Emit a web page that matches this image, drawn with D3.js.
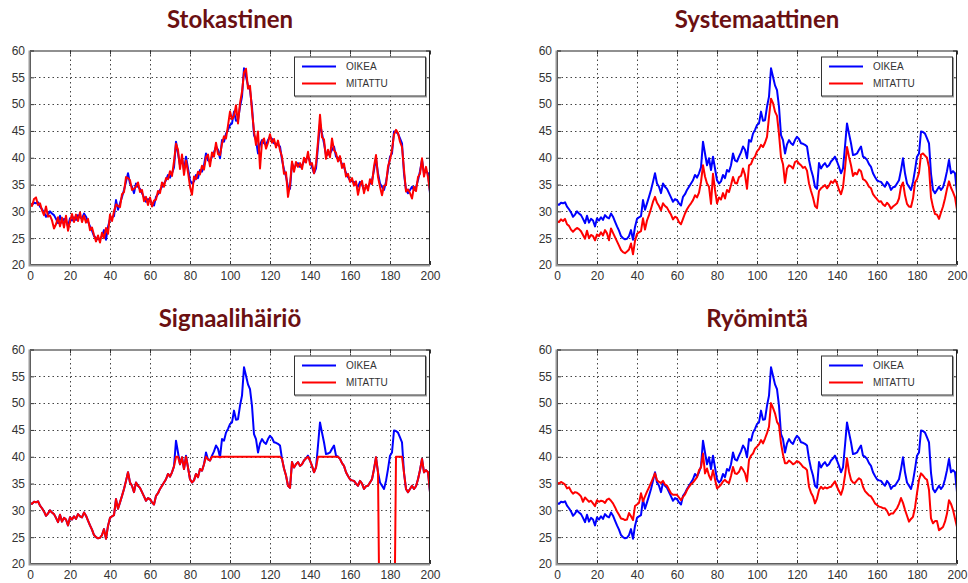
<!DOCTYPE html>
<html>
<head>
<meta charset="utf-8">
<script src="https://cdn.jsdelivr.net/npm/d3@7"></script>
<style>
  body { margin: 0; background: #fff; }
  svg { display: block; }
</style>
</head>
<body>
<svg id="chart" width="968" height="583"></svg>
<script>
// Axis ticks
const xTicks = [0, 20, 40, 60, 80, 100, 120, 140, 160, 180, 200];
const yTicks = [20, 25, 30, 35, 40, 45, 50, 55, 60];

// Panel titles and legend entries
const titles = ["Stokastinen", "Systemaattinen", "Signaalihäiriö", "Ryömintä"];
const legendNames = ["OIKEA", "MITATTU"];

// True signal (OIKEA), samples 0..200
const oikea = [
  31.4,31.2,31.6,31.5,31.7,30.9,30.4,29.8,29.0,29.4,
  30.0,29.6,29.3,28.6,27.8,29.2,27.9,28.6,28.3,27.2,
  28.7,28.3,28.9,28.4,29.3,28.9,28.7,29.6,29.0,28.1,
  27.2,26.4,25.4,25.0,24.8,24.9,25.4,26.5,24.7,27.1,
  28.6,28.9,29.1,32.1,30.3,31.5,32.7,34.0,35.5,37.1,
  35.2,34.6,33.4,35.2,34.6,34.2,33.4,32.6,31.8,32.3,
  32.1,31.5,31.1,32.7,33.2,34.0,34.6,35.2,35.8,36.8,
  36.3,37.1,38.2,43.0,40.8,38.6,39.9,37.7,40.2,38.0,
  35.8,35.2,35.6,36.8,36.2,37.7,37.4,38.6,40.8,39.5,
  39.3,40.2,41.0,42.1,41.5,39.9,43.3,43.0,44.5,45.2,
  46.1,46.4,48.6,46.9,47.0,49.5,51.4,56.7,55.1,53.5,
  52.6,49.5,44.2,43.3,40.8,42.5,43.3,42.7,42.4,43.3,
  43.9,43.5,42.7,42.6,42.4,42.1,39.6,37.8,36.5,34.6,
  34.2,39.0,38.0,38.6,39.0,38.3,38.6,39.3,39.7,40.2,
  39.3,38.3,37.1,38.0,42.1,46.4,44.5,42.7,40.5,40.6,
  40.8,41.5,42.1,40.2,40.0,39.6,38.8,38.3,37.1,36.4,
  35.8,35.6,35.5,35.0,34.6,35.5,35.0,34.0,34.5,34.6,
  35.2,35.8,37.7,39.9,37.1,35.2,34.6,34.0,35.5,37.7,
  40.2,40.8,44.9,44.8,44.5,43.6,42.7,37.0,34.0,33.4,
  34.0,34.6,34.0,34.5,35.8,37.5,39.6,37.1,37.5,37.1,
  33.4
];

// Measured signal with random noise
const mitattuStokastinen = [
  31.6,31.0,32.3,32.6,31.2,31.5,30.2,29.3,30.9,29.0,
  29.2,28.3,26.8,27.6,28.9,27.2,28.8,27.0,29.2,26.4,
  28.1,29.5,28.0,29.4,28.2,29.8,28.0,29.2,27.9,28.6,
  26.5,27.0,25.6,24.4,25.5,24.2,26.0,25.0,26.9,25.8,
  29.4,28.2,30.0,31.3,31.0,30.8,33.2,33.6,36.4,36.2,
  35.8,34.0,34.2,34.6,35.4,33.6,34.0,31.9,32.7,31.2,
  32.6,30.9,32.0,32.2,33.8,33.4,35.4,34.6,36.2,36.0,
  37.5,36.6,39.3,42.6,41.5,37.9,40.6,36.8,39.5,37.3,
  34.6,33.1,36.5,36.0,37.4,36.9,38.5,37.8,40.1,40.6,
  38.4,41.0,40.2,42.8,40.7,40.5,42.6,44.0,43.6,46.0,
  48.6,47.2,47.8,49.8,46.4,50.2,52.3,55.9,56.6,52.9,
  53.4,48.7,45.0,42.4,44.9,38.0,43.0,43.6,41.7,42.8,
  44.4,42.8,43.5,41.9,43.2,41.4,40.2,37.0,37.3,32.7,
  35.0,39.3,37.4,39.2,38.3,39.0,37.9,40.0,39.1,41.1,
  38.7,39.0,37.1,38.9,43.0,48.0,43.8,43.4,39.8,41.5,
  40.1,43.6,41.4,40.9,39.3,40.3,38.1,38.9,36.5,37.0,
  35.5,36.2,34.8,35.6,33.1,34.9,35.7,33.4,35.0,33.9,
  36.0,35.1,38.4,40.5,36.4,34.6,33.0,34.8,34.9,38.4,
  39.6,41.5,44.3,45.2,44.6,43.0,42.0,37.8,33.7,34.1,
  33.4,32.4,34.6,33.8,36.4,37.0,39.9,36.5,38.3,36.4,
  33.7
];

// Measured signal with a systematic (gain) error
const mitattuSystemaattinen = [
  28.2,28.0,28.5,28.2,28.6,27.6,27.3,26.6,26.2,26.6,
  26.9,26.7,26.3,25.6,24.9,26.4,25.0,25.6,25.4,24.6,
  25.7,25.4,26.1,25.5,26.5,25.9,24.6,26.8,26.0,25.2,
  24.4,23.6,22.8,22.4,22.2,22.5,22.9,24.0,22.0,24.5,
  25.8,26.1,26.3,28.7,26.6,28.3,29.3,30.5,31.8,32.7,
  31.6,31.0,30.2,31.5,31.0,30.7,30.0,29.4,28.5,29.0,
  28.8,28.0,27.6,28.6,29.6,30.4,31.0,31.5,32.1,33.0,
  32.6,33.5,35.5,38.6,36.5,35.2,34.6,31.4,37.0,34.0,
  31.5,32.6,32.2,33.4,32.4,34.0,33.6,34.9,36.4,35.3,
  35.2,36.4,36.6,38.0,36.8,34.2,38.6,38.8,39.8,40.2,
  41.2,41.6,42.4,42.0,42.8,43.9,47.6,51.0,50.2,48.6,
  47.8,44.4,40.1,38.8,35.3,38.0,38.6,38.4,38.0,39.2,
  39.4,38.9,38.6,38.1,38.3,37.6,35.2,33.8,32.6,31.0,
  30.6,33.8,34.3,34.6,34.9,34.3,34.8,35.6,35.3,35.9,
  35.2,34.0,33.2,34.5,38.0,42.0,40.2,38.6,36.6,37.2,
  36.9,37.8,37.5,36.0,35.8,35.3,34.6,34.3,33.2,32.7,
  32.3,31.8,31.9,31.3,31.0,31.6,31.2,30.5,30.9,31.2,
  31.5,32.4,34.6,35.4,33.0,31.4,30.9,30.8,32.4,35.4,
  36.0,37.2,40.6,40.8,40.4,40.0,38.2,32.6,30.8,29.5,
  29.4,28.6,29.8,30.9,32.4,34.2,35.6,34.4,33.6,32.6,
  30.3
];

// Measured signal saturating at 40, with a dropout
const mitattuSignaali = [
  31.4,31.2,31.6,31.5,31.7,30.9,30.4,29.8,29.0,29.4,
  30.0,29.6,29.3,28.6,27.8,29.2,27.9,28.6,28.3,27.2,
  28.7,28.3,28.9,28.4,29.3,28.9,28.7,29.6,29.0,28.1,
  27.2,26.4,25.4,25.0,24.8,24.9,25.4,26.5,24.7,27.1,
  28.6,28.9,29.1,32.1,30.3,31.5,32.7,34.0,35.5,37.1,
  35.2,34.6,33.4,35.2,34.6,34.2,33.4,32.6,31.8,32.3,
  32.1,31.5,31.1,32.7,33.2,34.0,34.6,35.2,35.8,36.8,
  36.3,37.1,38.2,40.0,40.0,38.6,39.9,37.7,40.0,38.0,
  35.8,35.2,35.6,36.8,36.2,37.7,37.4,38.6,40.0,39.5,
  39.3,40.0,40.0,40.0,40.0,39.9,40.0,40.0,40.0,40.0,
  40.0,40.0,40.0,40.0,40.0,40.0,40.0,40.0,40.0,40.0,
  40.0,40.0,40.0,40.0,40.0,40.0,40.0,40.0,40.0,40.0,
  40.0,40.0,40.0,40.0,40.0,40.0,39.6,37.8,36.5,34.6,
  34.2,39.0,38.0,38.6,39.0,38.3,38.6,39.3,39.7,40.0,
  39.3,38.3,37.1,38.0,40.0,40.0,40.0,40.0,40.0,40.0,
  40.0,40.0,40.0,40.0,40.0,39.6,38.8,38.3,37.1,36.4,
  35.8,35.6,35.5,35.0,34.6,35.5,35.0,34.0,34.5,34.6,
  35.2,35.8,37.7,39.9,37.1,0.0,0.0,0.0,0.0,0.0,
  0.0,0.0,0.0,40.0,40.0,40.0,40.0,37.0,34.0,33.4,
  34.0,34.6,34.0,34.5,35.8,37.5,39.6,37.1,37.5,37.1,
  33.4
];

// Measured signal with drift
const mitattuRyominta = [
  35.2,35.0,35.3,35.1,34.8,34.1,34.3,33.6,33.1,33.4,
  33.3,33.0,32.6,31.6,32.4,32.0,31.6,31.8,31.3,30.8,
  31.9,31.6,31.8,31.7,31.4,32.0,32.2,31.8,31.3,30.6,
  29.8,29.2,28.5,28.4,28.2,28.3,29.5,28.9,28.2,30.8,
  31.1,31.4,33.2,31.7,32.6,33.5,34.3,35.1,36.0,36.9,
  35.6,35.3,35.1,35.5,34.8,34.6,33.9,33.2,32.9,32.9,
  32.9,32.4,31.9,32.5,33.0,33.8,34.4,34.9,35.2,35.7,
  36.2,37.5,38.0,40.6,36.9,37.8,36.5,35.7,37.5,35.8,
  34.1,34.4,34.8,35.4,35.7,35.3,35.1,36.4,38.1,36.9,
  36.8,37.2,38.1,37.6,36.9,35.4,39.4,40.2,40.6,41.5,
  41.9,42.3,43.1,42.5,43.4,44.4,45.6,50.0,49.1,48.1,
  46.5,45.9,42.5,40.4,38.8,38.8,39.3,39.0,38.6,38.8,
  39.2,39.0,38.6,38.1,37.9,37.5,34.4,33.3,32.6,31.3,
  32.2,33.8,34.4,34.0,34.3,34.1,34.3,34.4,34.9,35.4,
  34.4,33.6,32.9,34.1,36.5,39.7,37.2,35.7,35.2,35.1,
  35.6,36.0,35.7,34.4,33.6,33.2,32.8,32.6,32.0,31.3,
  31.0,30.7,30.6,30.4,30.4,29.9,29.1,29.4,29.4,29.9,
  30.4,31.2,32.3,31.4,30.1,29.0,27.9,28.4,28.8,30.5,
  33.2,35.7,36.9,36.5,36.0,35.7,33.8,28.5,27.6,28.0,
  28.0,26.3,26.6,26.9,27.9,29.4,31.9,31.2,30.1,28.5,
  26.9
];

const measured = [mitattuStokastinen, mitattuSystemaattinen, mitattuSignaali, mitattuRyominta];

const svg = d3.select("#chart");
const W = 400, H = 214.5;
const colX = [30, 557];
const rowY = [50.5, 349.5];

titles.forEach((title, i) => {
  const x0 = colX[i % 2], y0 = rowY[Math.floor(i / 2)];
  const x = d3.scaleLinear().domain([0, 200]).range([x0, x0 + W]);
  const y = d3.scaleLinear().domain([20, 60]).range([y0 + H, y0]);
  const g = svg.append("g");

  // title
  g.append("text")
    .attr("x", x0 + W / 2).attr("y", y0 - 23)
    .attr("text-anchor", "middle")
    .style("font-family", "Lato, 'Open Sans', sans-serif")
    .style("font-weight", "700")
    .style("font-size", "24px")
    .style("fill", "#6b1012")
    .text(title);

  // dotted grid
  const grid = g.append("g").attr("stroke", "#444").attr("stroke-width", 1)
    .attr("stroke-dasharray", "1.5,3");
  grid.selectAll("line.vx").data(xTicks.slice(1, -1)).join("line")
    .attr("x1", d => Math.round(x(d)) + 0.5).attr("x2", d => Math.round(x(d)) + 0.5)
    .attr("y1", y0).attr("y2", y0 + H);
  grid.selectAll("line.hy").data(yTicks.slice(1, -1)).join("line")
    .attr("y1", d => Math.round(y(d)) + 0.5).attr("y2", d => Math.round(y(d)) + 0.5)
    .attr("x1", x0).attr("x2", x0 + W);

  // axes with inward ticks
  const styleAxis = sel => {
    sel.select(".domain").remove();
    sel.selectAll(".tick line").attr("stroke", "#333");
    sel.selectAll("text")
      .style("font-family", "'Liberation Sans', Arial, sans-serif")
      .style("font-size", "12px")
      .style("fill", "#333");
  };
  g.append("g").attr("transform", `translate(0,${y0 + H})`)
    .call(d3.axisBottom(x).tickValues(xTicks).tickSize(-4).tickPadding(6))
    .call(styleAxis);
  g.append("g").attr("transform", `translate(${x0},0)`)
    .call(d3.axisLeft(y).tickValues(yTicks).tickSize(-4).tickPadding(5))
    .call(styleAxis);
  g.append("g").attr("transform", `translate(0,${y0})`)
    .call(d3.axisTop(x).tickValues(xTicks).tickSize(-4).tickFormat(""))
    .call(styleAxis);
  g.append("g").attr("transform", `translate(${x0 + W},0)`)
    .call(d3.axisRight(y).tickValues(yTicks).tickSize(-4).tickFormat(""))
    .call(styleAxis);

  // clip to plot area
  const clipId = "clip" + i;
  svg.append("clipPath").attr("id", clipId)
    .append("rect").attr("x", x0).attr("y", y0).attr("width", W).attr("height", H);

  const line = d3.line().x((d, k) => x(k)).y(d => y(d));
  const series = g.append("g").attr("clip-path", `url(#${clipId})`)
    .attr("fill", "none").attr("stroke-width", 2).attr("stroke-linejoin", "round");
  series.append("path").datum(oikea).attr("stroke", "#0000ff").attr("d", line);
  series.append("path").datum(measured[i]).attr("stroke", "#ff0000").attr("d", line);

  // frame
  g.append("rect").attr("x", x0 + 0.5).attr("y", y0 + 0.5)
    .attr("width", W - 1).attr("height", H - 1)
    .attr("fill", "none").attr("stroke", "#222").attr("stroke-width", 1);
  g.append("path")
    .attr("d", `M${x0 - 0.5},${y0} V${y0 + H + 0.5} H${x0 + W}`)
    .attr("fill", "none").attr("stroke", "#999").attr("stroke-width", 2);

  // legend
  const lx = x0 + W - 5 - 131, ly = y0 + 6;
  const leg = g.append("g");
  leg.append("rect").attr("x", lx + 1.5).attr("y", ly + 1.5).attr("width", 131).attr("height", 39)
    .attr("fill", "none").attr("stroke", "#999").attr("stroke-width", 1);
  leg.append("rect").attr("x", lx + 0.5).attr("y", ly + 0.5).attr("width", 131).attr("height", 39)
    .attr("fill", "#fff").attr("stroke", "#333").attr("stroke-width", 1);
  legendNames.forEach((name, k) => {
    const yy = ly + 10 + k * 17;
    leg.append("line").attr("x1", lx + 8).attr("x2", lx + 42).attr("y1", yy).attr("y2", yy)
      .attr("stroke", k === 0 ? "#0000ff" : "#ff0000").attr("stroke-width", 2);
    leg.append("text").attr("x", lx + 52).attr("y", yy + 3.5)
      .style("font-family", "'Liberation Sans', Arial, sans-serif")
      .style("font-size", "10px").style("fill", "#333")
      .text(name);
  });
});
</script>
</body>
</html>
